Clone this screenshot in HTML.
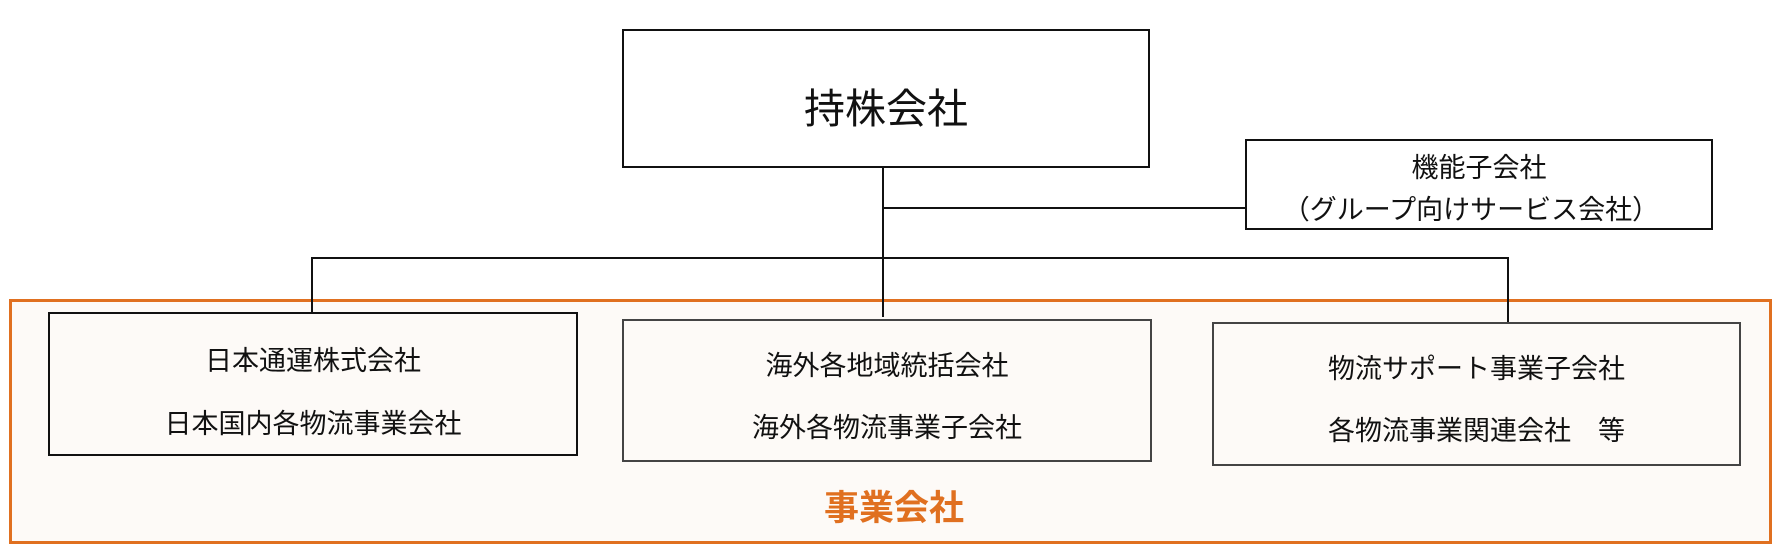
<!DOCTYPE html>
<html><head><meta charset="utf-8"><style>
body{margin:0;width:1784px;height:554px;background:#fff;position:relative;overflow:hidden;font-family:"Liberation Sans","Noto Sans CJK JP",sans-serif;color:#111}
.b{position:absolute;box-sizing:border-box;border:2px solid #111;background:#fff}
.l{position:absolute;background:#111}
.t{position:absolute;width:100%;text-align:center;left:0;white-space:nowrap}
</style></head><body>
<div style="position:absolute;left:9px;top:299px;width:1763px;height:245px;box-sizing:border-box;border:3px solid #E07020;background:#FDFAF7"></div>
<div class="l" style="left:882px;top:167px;width:2px;height:150px"></div>
<div class="l" style="left:883px;top:207px;width:362px;height:2px"></div>
<div class="l" style="left:311px;top:257px;width:1198px;height:2px"></div>
<div class="l" style="left:311px;top:257px;width:2px;height:58px"></div>
<div class="l" style="left:1507px;top:257px;width:2px;height:66px"></div>
<div class="b" style="left:622px;top:29px;width:528px;height:139px"><div class="t" style="top:56px;font-size:41px;line-height:44px">持株会社</div></div>
<div class="b" style="left:1245px;top:139px;width:468px;height:91px"><div class="t" style="top:12px;font-size:27px;line-height:30px">機能子会社</div><div class="t" style="top:54px;font-size:27px;line-height:30px;left:-8px">（グループ向けサービス会社）</div></div>
<div class="b" style="left:48px;top:312px;width:530px;height:144px;background:#fdfaf7"><div class="t" style="top:32px;font-size:27px;line-height:30px">日本通運株式会社</div><div class="t" style="top:95px;font-size:27px;line-height:30px">日本国内各物流事業会社</div></div>
<div class="b" style="left:622px;top:319px;width:530px;height:143px;border-color:#444;background:#fdfaf7"><div class="t" style="top:30px;font-size:27px;line-height:30px">海外各地域統括会社</div><div class="t" style="top:92px;font-size:27px;line-height:30px">海外各物流事業子会社</div></div>
<div class="b" style="left:1212px;top:322px;width:529px;height:144px;border-color:#444;background:#fdfaf7"><div class="t" style="top:30px;font-size:27px;line-height:30px">物流サポート事業子会社</div><div class="t" style="top:92px;font-size:27px;line-height:30px">各物流事業関連会社　等</div></div>
<div style="position:absolute;left:0;width:1788px;top:490px;text-align:center;font-size:35px;font-weight:bold;color:#E07020;line-height:38px">事業会社</div>
</body></html>
